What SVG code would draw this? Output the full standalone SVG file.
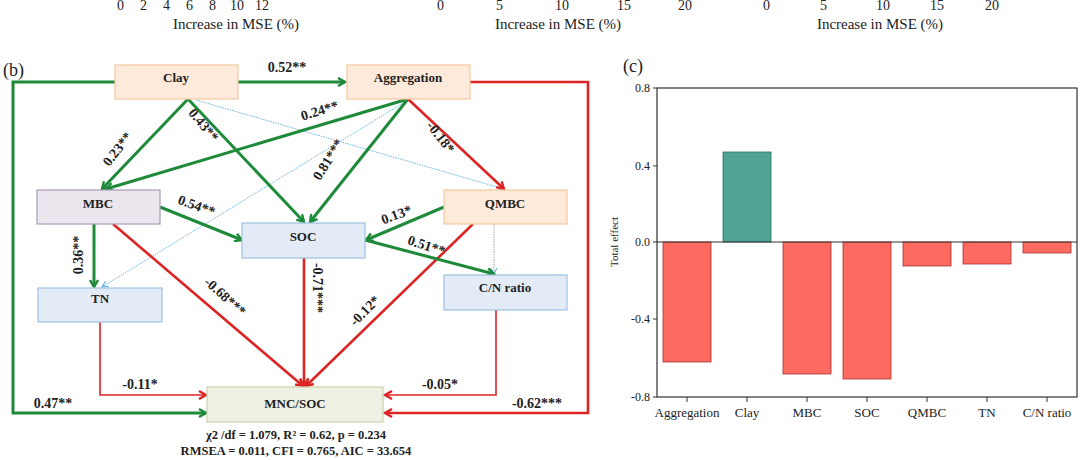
<svg xmlns="http://www.w3.org/2000/svg" width="1080" height="460" viewBox="0 0 1080 460" font-family="'Liberation Serif', 'Times New Roman', 'DejaVu Serif', serif">
<style>
text{font-family:'Liberation Serif','Times New Roman','DejaVu Serif',serif;fill:#222}
.b{font-weight:bold}
.nl{font-size:13px;font-weight:bold;text-anchor:middle}
.el{font-size:14px;font-weight:bold;text-anchor:middle}
.peach{fill:#fdeadb;stroke:#f3c9a0;stroke-width:1.2}
.lav{fill:#ebe5ee;stroke:#a99bb8;stroke-width:1.2}
.blue{fill:#e3ecf6;stroke:#9fc2e2;stroke-width:1.2}
.olive{fill:#eef0e3;stroke:#cbd4ab;stroke-width:1.2}
.g{stroke:#1e8a3a;stroke-width:3;fill:none;marker-end:url(#ag)}
.r{stroke:#dd2424;stroke-width:2.6;fill:none;marker-end:url(#ar)}
.rt{stroke:#dd2424;stroke-width:1.6;fill:none;marker-end:url(#ar)}
.d{stroke:#4aa3d8;stroke-width:0.8;fill:none;stroke-dasharray:1.5 1;marker-end:url(#ad)}
.dg{stroke:#8a8fa0;stroke-width:0.8;fill:none;stroke-dasharray:1.5 1;marker-end:url(#ad)}
.ax{font-size:12px}
.bar{fill:#fd6a60;stroke:#a33;stroke-width:0.8}
</style>
<defs>
<marker id="ag" markerWidth="10" markerHeight="10" refX="8" refY="5" orient="auto" markerUnits="userSpaceOnUse"><path d="M1,1 L8,5 L1,9" fill="none" stroke="#1e8a3a" stroke-width="2.4"/></marker>
<marker id="ar" markerWidth="10" markerHeight="10" refX="8" refY="5" orient="auto" markerUnits="userSpaceOnUse"><path d="M1,1 L8,5 L1,9" fill="none" stroke="#dd2424" stroke-width="2.4"/></marker>
<marker id="ad" markerWidth="8" markerHeight="8" refX="7" refY="4" orient="auto" markerUnits="userSpaceOnUse"><path d="M1,1 L7,4 L1,7" fill="none" stroke="#4aa3d8" stroke-width="1"/></marker>
</defs>
<rect width="1080" height="460" fill="#fff"/>
<g font-size="14">
<text x="117" y="10">0</text><text x="140" y="10">2</text><text x="163" y="10">4</text><text x="186" y="10">6</text><text x="209" y="10">8</text><text x="230" y="10">10</text><text x="255" y="10">12</text>
<text x="437" y="10">0</text><text x="496" y="10">5</text><text x="555" y="10">10</text><text x="617" y="10">15</text><text x="678" y="10">20</text>
<text x="763" y="10">0</text><text x="820" y="10">5</text><text x="876" y="10">10</text><text x="930" y="10">15</text><text x="985" y="10">20</text>
<text x="236" y="29" text-anchor="middle" font-size="15">Increase in MSE (%)</text>
<text x="558" y="29" text-anchor="middle" font-size="15">Increase in MSE (%)</text>
<text x="880" y="29" text-anchor="middle" font-size="15">Increase in MSE (%)</text>
</g>
<text x="3" y="76" font-size="18">(b)</text>
<g id="connectors">
<line class="g" x1="238" y1="82" x2="345" y2="82"/>
<polyline class="g" points="115,82 13,82 13,413 206,413"/>
<polyline class="r" points="470,82 588,82 588,413 385,413" stroke-width="1.6"/>
<polyline class="rt" points="100,322 100,395 206,395"/>
<polyline class="rt" points="496,310 496,395 385,395"/>
<line class="d" x1="196" y1="100" x2="504" y2="189"/>
<line class="d" x1="408" y1="100" x2="102" y2="287"/>
<line class="dg" x1="494" y1="224" x2="494" y2="274"/>
<line class="g" x1="188" y1="99" x2="102" y2="189"/>
<line class="g" x1="188" y1="99" x2="304" y2="222"/>
<line class="g" x1="408" y1="99" x2="106" y2="189"/>
<line class="g" x1="408" y1="99" x2="310" y2="222"/>
<line class="r" x1="408" y1="99" x2="504" y2="189"/>
<line class="g" x1="160" y1="207" x2="242" y2="240"/>
<line class="g" x1="94" y1="224" x2="94" y2="287"/>
<line class="r" x1="113" y1="224" x2="303" y2="386"/>
<line class="r" x1="304" y1="258" x2="304" y2="386"/>
<line class="r" x1="473" y1="224" x2="306" y2="386"/>
<line class="g" x1="444" y1="207" x2="366" y2="240"/>
<line class="g" x1="365" y1="240" x2="494" y2="274"/>
</g>
<g class="el">
<text x="287" y="72">0.52**</text>
<text x="53" y="408">0.47**</text>
<text x="537" y="408">-0.62***</text>
<text x="140" y="389">-0.11*</text>
<text x="440" y="389">-0.05*</text>
<text transform="translate(121,152) rotate(-52)">0.23**</text>
<text transform="translate(200,128) rotate(50)">0.43**</text>
<text transform="translate(321,115) rotate(-17)">0.24**</text>
<text transform="translate(332,162) rotate(-58)">0.81***</text>
<text transform="translate(437,140) rotate(52)">-0.18*</text>
<text transform="translate(195,210) rotate(20)">0.54**</text>
<text transform="translate(83,255) rotate(-90)">0.36**</text>
<text transform="translate(222,300) rotate(42)">-0.68***</text>
<text transform="translate(313,288) rotate(90)">-0.71***</text>
<text transform="translate(368,314) rotate(-45)">-0.12*</text>
<text transform="translate(398,219) rotate(-20)">0.13*</text>
<text transform="translate(425,250) rotate(18)">0.51**</text>
</g>
<g id="clay"><rect class="peach" x="115" y="65" width="123" height="34"/><text class="nl" x="176" y="82">Clay</text></g>
<g id="aggregation"><rect class="peach" x="347" y="65" width="123" height="34"/><text class="nl" x="408" y="82">Aggregation</text></g>
<g id="mbc"><rect class="lav" x="37" y="190" width="123" height="34"/><text class="nl" x="98" y="208">MBC</text></g>
<g id="soc"><rect class="blue" x="242" y="223" width="123" height="35"/><text class="nl" x="303" y="241">SOC</text></g>
<g id="qmbc"><rect class="peach" x="444" y="190" width="123" height="34"/><text class="nl" x="505" y="208">QMBC</text></g>
<g id="tn"><rect class="blue" x="38" y="288" width="124" height="34"/><text class="nl" x="100" y="303">TN</text></g>
<g id="cn"><rect class="blue" x="444" y="275" width="123" height="35"/><text class="nl" x="505" y="292">C/N ratio</text></g>
<g id="mncsoc"><rect class="olive" x="207" y="387" width="176" height="35"/><text class="nl" x="295" y="408" font-size="15">MNC/SOC</text></g>
<text class="b" x="296" y="439" font-size="12.5" text-anchor="middle">χ2 /df = 1.079, R² = 0.62, p = 0.234</text>
<text class="b" x="296" y="455" font-size="12.5" text-anchor="middle">RMSEA = 0.011, CFI = 0.765, AIC = 33.654</text>
<text x="623" y="72" font-size="18">(c)</text>
<rect x="657" y="88" width="420" height="309" fill="none" stroke="#333" stroke-width="1.2"/>
<rect x="663" y="242" width="48" height="120" class="bar"/>
<rect x="723" y="152" width="48" height="90" fill="#4ea394" stroke="#2d6f63" stroke-width="0.8"/>
<rect x="783" y="242" width="48" height="132" class="bar"/>
<rect x="843" y="242" width="48" height="137" class="bar"/>
<rect x="903" y="242" width="48" height="24" class="bar"/>
<rect x="963" y="242" width="48" height="22" class="bar"/>
<rect x="1023" y="242" width="48" height="11" class="bar"/>
<line x1="657" y1="242" x2="1077" y2="242" stroke="#333" stroke-width="1.2"/>
<g stroke="#333" stroke-width="1">
<line x1="653" y1="88" x2="657" y2="88"/><line x1="653" y1="166" x2="657" y2="166"/><line x1="653" y1="242" x2="657" y2="242"/><line x1="653" y1="319" x2="657" y2="319"/><line x1="653" y1="397" x2="657" y2="397"/>
<line x1="687" y1="397" x2="687" y2="402"/><line x1="747" y1="397" x2="747" y2="402"/><line x1="807" y1="397" x2="807" y2="402"/><line x1="867" y1="397" x2="867" y2="402"/><line x1="927" y1="397" x2="927" y2="402"/><line x1="987" y1="397" x2="987" y2="402"/><line x1="1047" y1="397" x2="1047" y2="402"/>
</g>
<g class="ax" text-anchor="end">
<text x="650" y="92">0.8</text><text x="650" y="170">0.4</text><text x="650" y="246">0.0</text><text x="650" y="323">-0.4</text><text x="650" y="401">-0.8</text>
</g>
<text transform="translate(618,242) rotate(-90)" font-size="11" text-anchor="middle">Total effect</text>
<g font-size="13" text-anchor="middle">
<text x="687" y="417">Aggregation</text><text x="747" y="417">Clay</text><text x="807" y="417">MBC</text><text x="867" y="417">SOC</text><text x="927" y="417">QMBC</text><text x="987" y="417">TN</text><text x="1047" y="417">C/N ratio</text>
</g>
</svg>
